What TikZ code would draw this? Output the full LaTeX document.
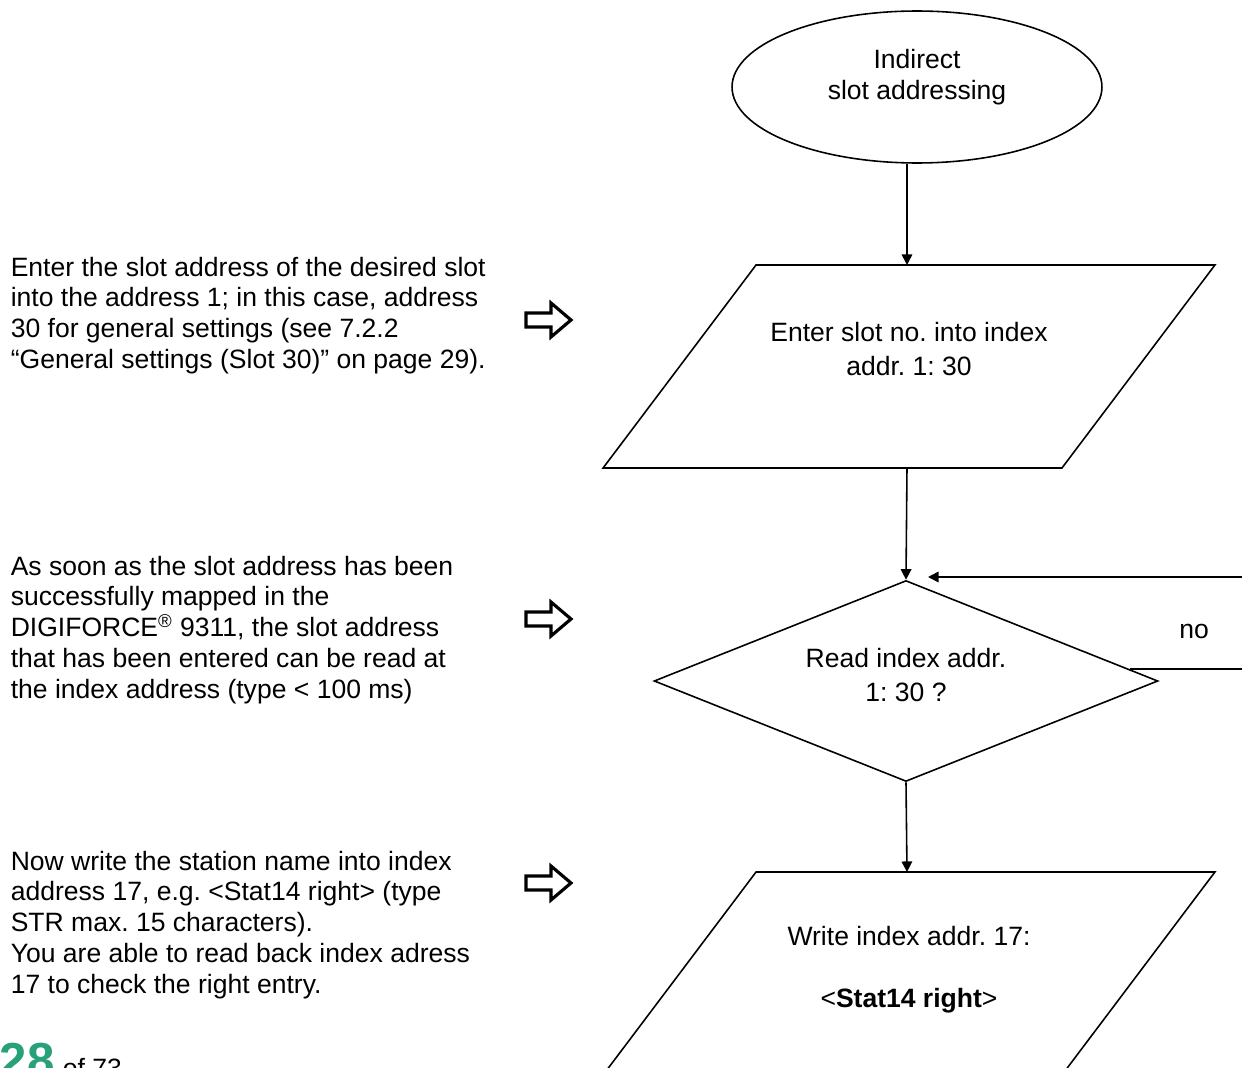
\documentclass[tikz,border=0pt]{standalone}
\usepackage{fontspec}
\setmainfont{Liberation Sans}
\usetikzlibrary{arrows.meta,shapes.geometric}
\definecolor{pagegreen}{RGB}{40,160,122}
\frenchspacing

\begin{document}
\begin{tikzpicture}[x=0.02cm,y=-0.02cm,>={Triangle[length=6pt,width=6pt]},line width=0.9pt,
  font=\fontsize{15.1}{17.6}\selectfont,
  txt/.style={inner sep=0pt,align=center},
  note/.style={inner sep=0pt,align=left,anchor=north west},
  startshape/.style={draw,ellipse,minimum width=7.4cm,minimum height=3.04cm},
  inshape/.style={draw,trapezium,trapezium left angle=53,trapezium right angle=127,
    inner xsep=3.06cm,inner ysep=2.03cm,outer sep=0pt},
  askshape/.style={draw,diamond,minimum width=10.08cm,minimum height=4.02cm},
  hint/.style={line width=1.8pt,line join=miter}]
\useasboundingbox (0,0) rectangle (1242,1068);
\clip (0,0) rectangle (1242,1068);
\coordinate (col) at (907,0);
% flow
\node[startshape] (start) at (917,87) {};
\node[txt] (start-t) at (917,77) {Indirect\\slot addressing};
\node[inshape] (slot) at (909,366.5) {};
\node[txt] (slot-t) at (909,349) {Enter slot no. into index\\[2.3pt]addr. 1: 30};
\node[askshape] (read) at (906,681) {};
\node[txt] (read-t) at (906,675) {Read index addr.\\[1.7pt]1: 30 ?};
\node[inshape] (name) at (909,973.5) {};
\node[txt] (name-t) at (909,970) {Write index addr. 17:\\[17.7pt]<\textbf{Stat14 right}>};
\draw[->] (start.south -| col) -- (slot.north -| col);
\draw[->] (slot.south -| col) -- (read.north);
\draw[->] (read.south) -- (name.north -| col);
% no loop
\coordinate (back) at (928,577);
\draw[->] (read.3) -- ++(160,0) |- (back);
\node[txt] (no) at (1194,631) {no};
% notes
\node[note] (note1) at (10,256) {Enter the slot address of the desired slot\\into the address 1; in this case, address\\30 for general settings (see 7.2.2\\“General settings (Slot 30)” on page 29).};
\node[note] (note2) at (10,555) {As soon as the slot address has been\\successfully mapped in the\\DIGIFORCE\smash{\textsuperscript{\textregistered}} 9311, the slot address\\that has been entered can be read at\\the index address (type < 100 ms)};
\node[note] (note3) at (10,850) {Now write the station name into index\\address 17, e.g. <Stat14 right> (type\\STR max. 15 characters).\\You are able to read back index adress\\17 to check the right entry.};
\foreach \y in {320,619,883}
  \draw[hint,shift={(526,\y)}] (0,-7) -- (25,-7) -- (25,-17) -- (45,0) -- (25,17) -- (25,7) -- (0,7) -- cycle;
% page number
\node[anchor=base west,inner sep=0pt,text=pagegreen,font=\fontsize{28}{30}\selectfont\bfseries] (page) at (-1,1077) {28};
\node[anchor=base west,inner sep=0pt] (total) at (62,1077) {of 73};
\end{tikzpicture}
\end{document}
